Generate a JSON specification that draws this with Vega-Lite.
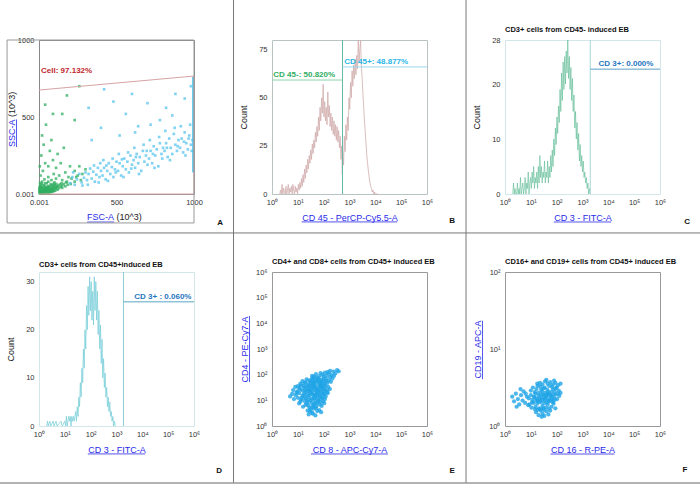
{
"$schema":"https://vega.github.io/schema/vega-lite/v6.json",
"autosize":{"type":"none"},
"padding":{"left":39,"top":40,"right":661,"bottom":454},
"background":"white",
"config":{
 "view":{"stroke":"#999","strokeWidth":1},
 "axis":{"grid":false,"ticks":false,"domain":false,"labelFont":"Liberation Sans","labelFontSize":7.5,"labelColor":"#333","labelPadding":4,"labelFlush":false,"labelOverlap":false,"tickCount":10,"titleFont":"Liberation Sans","titleFontSize":9,"titleFontWeight":"normal","titleColor":"#2a2ae8","titlePadding":8},
 "axisY":{"labelPadding":5},
 "title":{"font":"Liberation Sans","fontSize":7.5,"fontWeight":"bold","anchor":"start","frame":"group","color":"#111","offset":3},
 "text":{"font":"Liberation Sans"}
},
"datasets":{
 "a_events":[
{"fsc":5,"ssc":5,"pop":"g"},{"fsc":10,"ssc":15,"pop":"g"},{"fsc":15,"ssc":8,"pop":"g"},{"fsc":20,"ssc":20,"pop":"g"},{"fsc":25,"ssc":5,"pop":"g"},{"fsc":30,"ssc":12,"pop":"g"},{"fsc":35,"ssc":25,"pop":"g"},{"fsc":40,"ssc":10,"pop":"g"},{"fsc":45,"ssc":18,"pop":"g"},{"fsc":50,"ssc":30,"pop":"g"},{"fsc":55,"ssc":8,"pop":"g"},{"fsc":60,"ssc":22,"pop":"g"},{"fsc":65,"ssc":15,"pop":"g"},{"fsc":70,"ssc":35,"pop":"g"},{"fsc":75,"ssc":12,"pop":"g"},{"fsc":80,"ssc":25,"pop":"g"},{"fsc":85,"ssc":40,"pop":"g"},{"fsc":90,"ssc":18,"pop":"g"},{"fsc":95,"ssc":30,"pop":"g"},{"fsc":100,"ssc":45,"pop":"g"},{"fsc":105,"ssc":22,"pop":"g"},{"fsc":110,"ssc":35,"pop":"g"},{"fsc":115,"ssc":50,"pop":"g"},{"fsc":120,"ssc":28,"pop":"g"},{"fsc":8,"ssc":28,"pop":"g"},{"fsc":12,"ssc":35,"pop":"g"},{"fsc":18,"ssc":42,"pop":"g"},{"fsc":22,"ssc":12,"pop":"g"},{"fsc":28,"ssc":30,"pop":"g"},{"fsc":32,"ssc":18,"pop":"g"},{"fsc":38,"ssc":40,"pop":"g"},{"fsc":42,"ssc":28,"pop":"g"},{"fsc":48,"ssc":45,"pop":"g"},{"fsc":52,"ssc":15,"pop":"g"},{"fsc":58,"ssc":38,"pop":"g"},{"fsc":62,"ssc":52,"pop":"g"},{"fsc":68,"ssc":28,"pop":"g"},{"fsc":72,"ssc":45,"pop":"g"},{"fsc":78,"ssc":55,"pop":"g"},{"fsc":82,"ssc":32,"pop":"g"},{"fsc":88,"ssc":60,"pop":"g"},{"fsc":92,"ssc":42,"pop":"g"},{"fsc":98,"ssc":20,"pop":"g"},{"fsc":102,"ssc":58,"pop":"g"},{"fsc":108,"ssc":40,"pop":"g"},{"fsc":112,"ssc":65,"pop":"g"},{"fsc":118,"ssc":45,"pop":"g"},{"fsc":125,"ssc":55,"pop":"g"},{"fsc":130,"ssc":38,"pop":"g"},{"fsc":135,"ssc":62,"pop":"g"},{"fsc":140,"ssc":48,"pop":"g"},{"fsc":145,"ssc":70,"pop":"g"},{"fsc":150,"ssc":55,"pop":"g"},{"fsc":3,"ssc":40,"pop":"g"},{"fsc":6,"ssc":50,"pop":"g"},{"fsc":10,"ssc":60,"pop":"g"},{"fsc":14,"ssc":48,"pop":"g"},{"fsc":2,"ssc":20,"pop":"g"},{"fsc":4,"ssc":10,"pop":"g"},{"fsc":150,"ssc":40,"pop":"g"},{"fsc":160,"ssc":65,"pop":"g"},{"fsc":170,"ssc":50,"pop":"g"},{"fsc":175,"ssc":75,"pop":"g"},{"fsc":185,"ssc":60,"pop":"g"},
{"fsc":8,"ssc":12,"pop":"g"},{"fsc":16,"ssc":24,"pop":"g"},{"fsc":24,"ssc":16,"pop":"g"},{"fsc":34,"ssc":34,"pop":"g"},{"fsc":44,"ssc":6,"pop":"g"},{"fsc":54,"ssc":26,"pop":"g"},{"fsc":64,"ssc":40,"pop":"g"},{"fsc":74,"ssc":20,"pop":"g"},{"fsc":84,"ssc":14,"pop":"g"},{"fsc":94,"ssc":50,"pop":"g"},{"fsc":12,"ssc":4,"pop":"g"},{"fsc":26,"ssc":44,"pop":"g"},{"fsc":36,"ssc":52,"pop":"g"},{"fsc":46,"ssc":36,"pop":"g"},{"fsc":56,"ssc":48,"pop":"g"},{"fsc":66,"ssc":6,"pop":"g"},{"fsc":76,"ssc":64,"pop":"g"},{"fsc":86,"ssc":28,"pop":"g"},{"fsc":96,"ssc":68,"pop":"g"},{"fsc":30,"ssc":58,"pop":"g"},{"fsc":18,"ssc":66,"pop":"g"},{"fsc":40,"ssc":70,"pop":"g"},{"fsc":60,"ssc":80,"pop":"g"},{"fsc":3,"ssc":30,"pop":"g"},{"fsc":7,"ssc":72,"pop":"g"},
{"fsc":20,"ssc":80,"pop":"g"},{"fsc":35,"ssc":95,"pop":"g"},{"fsc":50,"ssc":70,"pop":"g"},{"fsc":60,"ssc":110,"pop":"g"},{"fsc":80,"ssc":90,"pop":"g"},{"fsc":95,"ssc":130,"pop":"g"},{"fsc":110,"ssc":100,"pop":"g"},{"fsc":130,"ssc":120,"pop":"g"},{"fsc":150,"ssc":90,"pop":"g"},{"fsc":170,"ssc":140,"pop":"g"},{"fsc":190,"ssc":110,"pop":"g"},{"fsc":210,"ssc":100,"pop":"g"},{"fsc":230,"ssc":150,"pop":"g"},{"fsc":250,"ssc":120,"pop":"g"},{"fsc":270,"ssc":90,"pop":"g"},{"fsc":300,"ssc":160,"pop":"g"},{"fsc":25,"ssc":150,"pop":"g"},{"fsc":40,"ssc":200,"pop":"g"},{"fsc":15,"ssc":250,"pop":"g"},{"fsc":60,"ssc":180,"pop":"g"},{"fsc":90,"ssc":220,"pop":"g"},{"fsc":30,"ssc":320,"pop":"g"},{"fsc":70,"ssc":280,"pop":"g"},{"fsc":45,"ssc":450,"pop":"g"},{"fsc":20,"ssc":380,"pop":"g"},{"fsc":110,"ssc":170,"pop":"g"},{"fsc":140,"ssc":200,"pop":"g"},{"fsc":200,"ssc":180,"pop":"g"},{"fsc":120,"ssc":260,"pop":"g"},{"fsc":160,"ssc":300,"pop":"g"},{"fsc":10,"ssc":120,"pop":"g"},{"fsc":5,"ssc":180,"pop":"g"},{"fsc":80,"ssc":350,"pop":"g"},{"fsc":230,"ssc":80,"pop":"g"},{"fsc":260,"ssc":180,"pop":"g"},{"fsc":180,"ssc":80,"pop":"g"},{"fsc":100,"ssc":75,"pop":"g"},{"fsc":205,"ssc":65,"pop":"g"},{"fsc":240,"ssc":110,"pop":"g"},{"fsc":280,"ssc":130,"pop":"g"},
{"fsc":200,"ssc":70,"pop":"b"},{"fsc":215,"ssc":110,"pop":"b"},{"fsc":230,"ssc":60,"pop":"b"},{"fsc":245,"ssc":95,"pop":"b"},{"fsc":260,"ssc":130,"pop":"b"},{"fsc":275,"ssc":75,"pop":"b"},{"fsc":290,"ssc":105,"pop":"b"},{"fsc":300,"ssc":140,"pop":"b"},{"fsc":220,"ssc":140,"pop":"b"},{"fsc":280,"ssc":55,"pop":"b"},
{"fsc":310,"ssc":90,"pop":"b"},{"fsc":320,"ssc":130,"pop":"b"},{"fsc":330,"ssc":165,"pop":"b"},{"fsc":340,"ssc":100,"pop":"b"},{"fsc":350,"ssc":145,"pop":"b"},{"fsc":360,"ssc":80,"pop":"b"},{"fsc":370,"ssc":125,"pop":"b"},{"fsc":380,"ssc":170,"pop":"b"},{"fsc":390,"ssc":110,"pop":"b"},{"fsc":400,"ssc":150,"pop":"b"},{"fsc":315,"ssc":60,"pop":"b"},{"fsc":355,"ssc":185,"pop":"b"},{"fsc":385,"ssc":75,"pop":"b"},{"fsc":395,"ssc":200,"pop":"b"},
{"fsc":410,"ssc":120,"pop":"b"},{"fsc":420,"ssc":170,"pop":"b"},{"fsc":430,"ssc":95,"pop":"b"},{"fsc":440,"ssc":150,"pop":"b"},{"fsc":450,"ssc":200,"pop":"b"},{"fsc":460,"ssc":130,"pop":"b"},{"fsc":470,"ssc":175,"pop":"b"},{"fsc":480,"ssc":110,"pop":"b"},{"fsc":490,"ssc":160,"pop":"b"},{"fsc":500,"ssc":210,"pop":"b"},{"fsc":415,"ssc":220,"pop":"b"},{"fsc":445,"ssc":85,"pop":"b"},{"fsc":475,"ssc":230,"pop":"b"},{"fsc":495,"ssc":140,"pop":"b"},{"fsc":435,"ssc":185,"pop":"b"},
{"fsc":510,"ssc":150,"pop":"b"},{"fsc":520,"ssc":200,"pop":"b"},{"fsc":530,"ssc":120,"pop":"b"},{"fsc":540,"ssc":180,"pop":"b"},{"fsc":550,"ssc":230,"pop":"b"},{"fsc":560,"ssc":160,"pop":"b"},{"fsc":570,"ssc":210,"pop":"b"},{"fsc":580,"ssc":140,"pop":"b"},{"fsc":590,"ssc":250,"pop":"b"},{"fsc":600,"ssc":190,"pop":"b"},{"fsc":515,"ssc":260,"pop":"b"},{"fsc":545,"ssc":110,"pop":"b"},{"fsc":575,"ssc":270,"pop":"b"},{"fsc":595,"ssc":165,"pop":"b"},{"fsc":535,"ssc":225,"pop":"b"},
{"fsc":610,"ssc":220,"pop":"b"},{"fsc":620,"ssc":170,"pop":"b"},{"fsc":630,"ssc":260,"pop":"b"},{"fsc":640,"ssc":200,"pop":"b"},{"fsc":650,"ssc":240,"pop":"b"},{"fsc":660,"ssc":150,"pop":"b"},{"fsc":670,"ssc":280,"pop":"b"},{"fsc":680,"ssc":210,"pop":"b"},{"fsc":690,"ssc":250,"pop":"b"},{"fsc":700,"ssc":190,"pop":"b"},{"fsc":615,"ssc":300,"pop":"b"},{"fsc":645,"ssc":130,"pop":"b"},{"fsc":675,"ssc":320,"pop":"b"},{"fsc":695,"ssc":280,"pop":"b"},{"fsc":625,"ssc":240,"pop":"b"},
{"fsc":710,"ssc":230,"pop":"b"},{"fsc":720,"ssc":280,"pop":"b"},{"fsc":730,"ssc":200,"pop":"b"},{"fsc":740,"ssc":310,"pop":"b"},{"fsc":750,"ssc":250,"pop":"b"},{"fsc":760,"ssc":290,"pop":"b"},{"fsc":770,"ssc":180,"pop":"b"},{"fsc":780,"ssc":330,"pop":"b"},{"fsc":790,"ssc":260,"pop":"b"},{"fsc":800,"ssc":300,"pop":"b"},{"fsc":715,"ssc":350,"pop":"b"},{"fsc":745,"ssc":170,"pop":"b"},{"fsc":775,"ssc":370,"pop":"b"},{"fsc":795,"ssc":230,"pop":"b"},{"fsc":735,"ssc":260,"pop":"b"},
{"fsc":810,"ssc":280,"pop":"b"},{"fsc":820,"ssc":330,"pop":"b"},{"fsc":830,"ssc":240,"pop":"b"},{"fsc":840,"ssc":360,"pop":"b"},{"fsc":850,"ssc":300,"pop":"b"},{"fsc":860,"ssc":260,"pop":"b"},{"fsc":870,"ssc":390,"pop":"b"},{"fsc":880,"ssc":320,"pop":"b"},{"fsc":890,"ssc":280,"pop":"b"},{"fsc":900,"ssc":350,"pop":"b"},{"fsc":815,"ssc":410,"pop":"b"},{"fsc":845,"ssc":220,"pop":"b"},{"fsc":875,"ssc":430,"pop":"b"},{"fsc":895,"ssc":310,"pop":"b"},{"fsc":825,"ssc":300,"pop":"b"},
{"fsc":910,"ssc":300,"pop":"b"},{"fsc":920,"ssc":360,"pop":"b"},{"fsc":930,"ssc":270,"pop":"b"},{"fsc":940,"ssc":400,"pop":"b"},{"fsc":950,"ssc":330,"pop":"b"},{"fsc":960,"ssc":290,"pop":"b"},{"fsc":970,"ssc":380,"pop":"b"},{"fsc":980,"ssc":320,"pop":"b"},{"fsc":990,"ssc":350,"pop":"b"},{"fsc":915,"ssc":440,"pop":"b"},{"fsc":945,"ssc":250,"pop":"b"},{"fsc":975,"ssc":450,"pop":"b"},{"fsc":985,"ssc":280,"pop":"b"},{"fsc":935,"ssc":340,"pop":"b"},{"fsc":965,"ssc":360,"pop":"b"},
{"fsc":150,"ssc":520,"pop":"g"},{"fsc":230,"ssc":480,"pop":"g"},{"fsc":320,"ssc":560,"pop":"b"},{"fsc":400,"ssc":430,"pop":"b"},{"fsc":480,"ssc":600,"pop":"b"},{"fsc":560,"ssc":520,"pop":"b"},{"fsc":640,"ssc":440,"pop":"b"},{"fsc":700,"ssc":590,"pop":"b"},{"fsc":780,"ssc":480,"pop":"b"},{"fsc":860,"ssc":510,"pop":"b"},{"fsc":940,"ssc":620,"pop":"b"},{"fsc":980,"ssc":700,"pop":"b"},{"fsc":180,"ssc":640,"pop":"g"},{"fsc":260,"ssc":700,"pop":"g"},{"fsc":520,"ssc":380,"pop":"b"},{"fsc":620,"ssc":400,"pop":"b"},{"fsc":720,"ssc":450,"pop":"b"},{"fsc":820,"ssc":560,"pop":"b"},{"fsc":880,"ssc":650,"pop":"b"},{"fsc":340,"ssc":350,"pop":"b"},{"fsc":90,"ssc":520,"pop":"g"},{"fsc":40,"ssc":580,"pop":"g"},{"fsc":600,"ssc":650,"pop":"b"},{"fsc":420,"ssc":680,"pop":"b"}
 ],
 "a_gate":[{"fsc":0,"ssc":675,"o":1},{"fsc":1000,"ssc":766,"o":2},{"fsc":1000,"ssc":0,"o":3},{"fsc":0,"ssc":0,"o":4}],
 "b_hist":[
{"cd45":0.30,"count":0},{"cd45":0.33,"count":2},{"cd45":0.36,"count":0},{"cd45":0.39,"count":5},{"cd45":0.42,"count":0},{"cd45":0.45,"count":3},{"cd45":0.48,"count":1},{"cd45":0.51,"count":0},{"cd45":0.54,"count":4},{"cd45":0.57,"count":0},{"cd45":0.60,"count":2},{"cd45":0.63,"count":5},{"cd45":0.66,"count":0},{"cd45":0.69,"count":3},{"cd45":0.72,"count":1},{"cd45":0.75,"count":4},{"cd45":0.78,"count":0},{"cd45":0.81,"count":5},{"cd45":0.84,"count":2},{"cd45":0.87,"count":0},{"cd45":0.90,"count":4},{"cd45":0.93,"count":1},{"cd45":0.96,"count":3},{"cd45":0.99,"count":0},{"cd45":1.02,"count":5},{"cd45":1.05,"count":2},{"cd45":1.08,"count":6},{"cd45":1.11,"count":3},{"cd45":1.14,"count":8},{"cd45":1.17,"count":4},{"cd45":1.20,"count":10},{"cd45":1.23,"count":6},{"cd45":1.26,"count":13},{"cd45":1.29,"count":8},{"cd45":1.32,"count":15},{"cd45":1.35,"count":11},{"cd45":1.38,"count":18},{"cd45":1.41,"count":13},{"cd45":1.44,"count":20},{"cd45":1.47,"count":16},{"cd45":1.50,"count":23},{"cd45":1.53,"count":18},{"cd45":1.56,"count":26},{"cd45":1.59,"count":21},{"cd45":1.62,"count":28},{"cd45":1.65,"count":24},{"cd45":1.68,"count":32},{"cd45":1.71,"count":27},{"cd45":1.74,"count":35},{"cd45":1.77,"count":30},{"cd45":1.80,"count":40},{"cd45":1.83,"count":33},{"cd45":1.86,"count":45},{"cd45":1.89,"count":38},{"cd45":1.92,"count":50},{"cd45":1.95,"count":42},{"cd45":1.98,"count":57},{"cd45":2.01,"count":40},{"cd45":2.04,"count":48},{"cd45":2.07,"count":38},{"cd45":2.10,"count":45},{"cd45":2.13,"count":36},{"cd45":2.16,"count":53},{"cd45":2.19,"count":40},{"cd45":2.22,"count":46},{"cd45":2.25,"count":35},{"cd45":2.28,"count":42},{"cd45":2.31,"count":33},{"cd45":2.34,"count":40},{"cd45":2.37,"count":31},{"cd45":2.40,"count":38},{"cd45":2.43,"count":30},{"cd45":2.46,"count":36},{"cd45":2.49,"count":28},{"cd45":2.52,"count":35},{"cd45":2.55,"count":27},{"cd45":2.58,"count":33},{"cd45":2.61,"count":24},{"cd45":2.64,"count":30},{"cd45":2.67,"count":18},{"cd45":2.70,"count":25},{"cd45":2.72,"count":10},{"cd45":2.74,"count":22},{"cd45":2.77,"count":15},{"cd45":2.80,"count":30},{"cd45":2.83,"count":22},{"cd45":2.86,"count":36},{"cd45":2.89,"count":28},{"cd45":2.92,"count":40},{"cd45":2.95,"count":33},{"cd45":2.98,"count":50},{"cd45":3.01,"count":44},{"cd45":3.04,"count":58},{"cd45":3.07,"count":50},{"cd45":3.10,"count":64},{"cd45":3.13,"count":56},{"cd45":3.16,"count":67},{"cd45":3.19,"count":60},{"cd45":3.22,"count":70},{"cd45":3.25,"count":62},{"cd45":3.28,"count":72},{"cd45":3.31,"count":65},{"cd45":3.34,"count":80},{"cd45":3.37,"count":68},{"cd45":3.40,"count":75},{"cd45":3.43,"count":80},{"cd45":3.46,"count":66},{"cd45":3.49,"count":60},{"cd45":3.52,"count":52},{"cd45":3.55,"count":45},{"cd45":3.58,"count":38},{"cd45":3.61,"count":32},{"cd45":3.64,"count":26},{"cd45":3.67,"count":20},{"cd45":3.70,"count":16},{"cd45":3.73,"count":12},{"cd45":3.76,"count":9},{"cd45":3.79,"count":6},{"cd45":3.82,"count":4},{"cd45":3.85,"count":3},{"cd45":3.88,"count":1},{"cd45":3.91,"count":2},{"cd45":3.94,"count":0},{"cd45":3.97,"count":1},{"cd45":4.00,"count":0},{"cd45":4.10,"count":0}
 ],
 "c_hist":[
{"cd3":0.30,"count":0},{"cd3":0.33,"count":2},{"cd3":0.36,"count":0},{"cd3":0.39,"count":1},{"cd3":0.42,"count":0},{"cd3":0.45,"count":0},{"cd3":0.48,"count":2},{"cd3":0.51,"count":0},{"cd3":0.54,"count":1},{"cd3":0.57,"count":0},{"cd3":0.60,"count":3},{"cd3":0.63,"count":0},{"cd3":0.66,"count":1},{"cd3":0.69,"count":2},{"cd3":0.72,"count":0},{"cd3":0.75,"count":1},{"cd3":0.78,"count":3},{"cd3":0.81,"count":0},{"cd3":0.84,"count":2},{"cd3":0.87,"count":1},{"cd3":0.90,"count":4},{"cd3":0.93,"count":0},{"cd3":0.96,"count":2},{"cd3":0.99,"count":3},{"cd3":1.02,"count":1},{"cd3":1.05,"count":4},{"cd3":1.08,"count":2},{"cd3":1.11,"count":5},{"cd3":1.14,"count":1},{"cd3":1.17,"count":3},{"cd3":1.20,"count":2},{"cd3":1.23,"count":4},{"cd3":1.26,"count":1},{"cd3":1.29,"count":5},{"cd3":1.32,"count":2},{"cd3":1.35,"count":7},{"cd3":1.38,"count":3},{"cd3":1.41,"count":5},{"cd3":1.44,"count":2},{"cd3":1.47,"count":4},{"cd3":1.50,"count":3},{"cd3":1.53,"count":6},{"cd3":1.56,"count":2},{"cd3":1.59,"count":4},{"cd3":1.62,"count":3},{"cd3":1.65,"count":6},{"cd3":1.68,"count":2},{"cd3":1.71,"count":5},{"cd3":1.74,"count":3},{"cd3":1.77,"count":7},{"cd3":1.80,"count":4},{"cd3":1.83,"count":8},{"cd3":1.86,"count":5},{"cd3":1.89,"count":10},{"cd3":1.92,"count":7},{"cd3":1.95,"count":12},{"cd3":1.98,"count":9},{"cd3":2.01,"count":14},{"cd3":2.04,"count":11},{"cd3":2.07,"count":16},{"cd3":2.10,"count":13},{"cd3":2.13,"count":19},{"cd3":2.16,"count":15},{"cd3":2.19,"count":22},{"cd3":2.22,"count":17},{"cd3":2.25,"count":24},{"cd3":2.28,"count":19},{"cd3":2.31,"count":25},{"cd3":2.34,"count":20},{"cd3":2.37,"count":26},{"cd3":2.40,"count":22},{"cd3":2.43,"count":28},{"cd3":2.46,"count":21},{"cd3":2.49,"count":25},{"cd3":2.52,"count":19},{"cd3":2.55,"count":23},{"cd3":2.58,"count":17},{"cd3":2.61,"count":21},{"cd3":2.64,"count":15},{"cd3":2.67,"count":18},{"cd3":2.70,"count":12},{"cd3":2.73,"count":15},{"cd3":2.76,"count":10},{"cd3":2.79,"count":13},{"cd3":2.82,"count":8},{"cd3":2.85,"count":11},{"cd3":2.88,"count":6},{"cd3":2.91,"count":9},{"cd3":2.94,"count":5},{"cd3":2.97,"count":7},{"cd3":3.00,"count":4},{"cd3":3.03,"count":6},{"cd3":3.06,"count":3},{"cd3":3.09,"count":4},{"cd3":3.12,"count":2},{"cd3":3.15,"count":3},{"cd3":3.18,"count":1},{"cd3":3.21,"count":2},{"cd3":3.24,"count":0},{"cd3":3.27,"count":1},{"cd3":3.30,"count":0}
 ],
 "d_hist":[
{"cd3":0.30,"count":0},{"cd3":0.33,"count":1},{"cd3":0.36,"count":0},{"cd3":0.42,"count":1},{"cd3":0.45,"count":0},{"cd3":0.55,"count":1},{"cd3":0.58,"count":0},{"cd3":0.66,"count":1},{"cd3":0.70,"count":0},{"cd3":0.85,"count":1},{"cd3":0.90,"count":0},{"cd3":1.00,"count":1},{"cd3":1.03,"count":0},{"cd3":1.06,"count":2},{"cd3":1.09,"count":0},{"cd3":1.12,"count":1},{"cd3":1.15,"count":2},{"cd3":1.18,"count":1},{"cd3":1.21,"count":2},{"cd3":1.24,"count":0},{"cd3":1.27,"count":2},{"cd3":1.30,"count":1},{"cd3":1.33,"count":2},{"cd3":1.36,"count":1},{"cd3":1.39,"count":2},{"cd3":1.42,"count":3},{"cd3":1.45,"count":1},{"cd3":1.48,"count":4},{"cd3":1.51,"count":2},{"cd3":1.54,"count":6},{"cd3":1.57,"count":4},{"cd3":1.60,"count":9},{"cd3":1.63,"count":6},{"cd3":1.66,"count":12},{"cd3":1.69,"count":9},{"cd3":1.72,"count":16},{"cd3":1.75,"count":12},{"cd3":1.78,"count":20},{"cd3":1.81,"count":16},{"cd3":1.84,"count":25},{"cd3":1.87,"count":20},{"cd3":1.90,"count":29},{"cd3":1.93,"count":23},{"cd3":1.96,"count":31},{"cd3":1.99,"count":24},{"cd3":2.02,"count":30},{"cd3":2.05,"count":22},{"cd3":2.08,"count":28},{"cd3":2.11,"count":21},{"cd3":2.14,"count":31},{"cd3":2.17,"count":24},{"cd3":2.20,"count":30},{"cd3":2.23,"count":22},{"cd3":2.26,"count":28},{"cd3":2.29,"count":19},{"cd3":2.32,"count":24},{"cd3":2.35,"count":16},{"cd3":2.38,"count":21},{"cd3":2.41,"count":13},{"cd3":2.44,"count":18},{"cd3":2.47,"count":10},{"cd3":2.50,"count":14},{"cd3":2.53,"count":8},{"cd3":2.56,"count":11},{"cd3":2.59,"count":6},{"cd3":2.62,"count":8},{"cd3":2.65,"count":4},{"cd3":2.68,"count":6},{"cd3":2.71,"count":3},{"cd3":2.74,"count":5},{"cd3":2.77,"count":2},{"cd3":2.80,"count":3},{"cd3":2.83,"count":1},{"cd3":2.86,"count":2},{"cd3":2.89,"count":0},{"cd3":2.92,"count":1},{"cd3":2.95,"count":0}
 ],
 "e_events":[
{"cd8":1.42,"cd4":0.45},{"cd8":1.55,"cd4":0.52},{"cd8":1.68,"cd4":0.41},{"cd8":1.75,"cd4":0.58},{"cd8":1.5,"cd4":0.65},{"cd8":1.62,"cd4":0.68},{"cd8":1.83,"cd4":0.62},{"cd8":1.38,"cd4":0.6},{"cd8":1.9,"cd4":0.54},{"cd8":1.58,"cd4":0.48},{"cd8":1.7,"cd4":0.7},{"cd8":1.47,"cd4":0.57},
{"cd8":1.05,"cd4":0.88},{"cd8":1.2,"cd4":0.75},{"cd8":1.3,"cd4":0.82},{"cd8":1.38,"cd4":0.95},{"cd8":1.45,"cd4":0.72},{"cd8":1.52,"cd4":0.9},{"cd8":1.6,"cd4":0.8},{"cd8":1.66,"cd4":0.98},{"cd8":1.72,"cd4":0.76},{"cd8":1.78,"cd4":0.92},{"cd8":1.85,"cd4":0.84},{"cd8":1.92,"cd4":0.78},{"cd8":1.98,"cd4":0.96},{"cd8":1.25,"cd4":0.98},{"cd8":1.56,"cd4":0.74},{"cd8":1.63,"cd4":0.86},{"cd8":1.4,"cd4":0.8},{"cd8":1.8,"cd4":1.0},{"cd8":1.1,"cd4":0.95},{"cd8":1.7,"cd4":0.88},{"cd8":1.5,"cd4":1.0},{"cd8":1.88,"cd4":0.94},{"cd8":1.34,"cd4":0.88},{"cd8":2.02,"cd4":0.89},
{"cd8":0.7,"cd4":1.15},{"cd8":0.78,"cd4":1.25},{"cd8":0.85,"cd4":1.05},{"cd8":0.92,"cd4":1.2},{"cd8":1.0,"cd4":1.1},{"cd8":1.05,"cd4":1.28},{"cd8":1.12,"cd4":1.03},{"cd8":1.18,"cd4":1.18},{"cd8":1.24,"cd4":1.25},{"cd8":1.3,"cd4":1.08},{"cd8":1.36,"cd4":1.22},{"cd8":1.42,"cd4":1.13},{"cd8":1.48,"cd4":1.29},{"cd8":1.54,"cd4":1.06},{"cd8":1.6,"cd4":1.2},{"cd8":1.66,"cd4":1.12},{"cd8":1.72,"cd4":1.26},{"cd8":1.78,"cd4":1.04},{"cd8":1.84,"cd4":1.18},{"cd8":1.9,"cd4":1.24},{"cd8":1.96,"cd4":1.1},{"cd8":2.02,"cd4":1.22},{"cd8":2.08,"cd4":1.15},{"cd8":2.15,"cd4":1.28},{"cd8":1.27,"cd4":1.14},{"cd8":1.45,"cd4":1.2},{"cd8":1.63,"cd4":1.08},{"cd8":1.81,"cd4":1.3},{"cd8":1.99,"cd4":1.26},{"cd8":1.15,"cd4":1.1},{"cd8":1.57,"cd4":1.24},{"cd8":1.75,"cd4":1.16},{"cd8":1.93,"cd4":1.07},{"cd8":0.95,"cd4":1.3},{"cd8":1.39,"cd4":1.02},{"cd8":1.69,"cd4":1.22},{"cd8":1.87,"cd4":1.12},{"cd8":2.05,"cd4":1.05},
{"cd8":0.82,"cd4":1.4},{"cd8":0.9,"cd4":1.52},{"cd8":0.98,"cd4":1.35},{"cd8":1.05,"cd4":1.48},{"cd8":1.12,"cd4":1.58},{"cd8":1.18,"cd4":1.38},{"cd8":1.25,"cd4":1.5},{"cd8":1.3,"cd4":1.32},{"cd8":1.36,"cd4":1.45},{"cd8":1.42,"cd4":1.56},{"cd8":1.47,"cd4":1.37},{"cd8":1.52,"cd4":1.48},{"cd8":1.57,"cd4":1.6},{"cd8":1.62,"cd4":1.4},{"cd8":1.67,"cd4":1.52},{"cd8":1.72,"cd4":1.34},{"cd8":1.77,"cd4":1.46},{"cd8":1.82,"cd4":1.58},{"cd8":1.87,"cd4":1.39},{"cd8":1.92,"cd4":1.5},{"cd8":1.97,"cd4":1.32},{"cd8":2.02,"cd4":1.45},{"cd8":2.07,"cd4":1.55},{"cd8":2.12,"cd4":1.4},{"cd8":2.18,"cd4":1.52},{"cd8":2.24,"cd4":1.44},{"cd8":1.33,"cd4":1.54},{"cd8":1.45,"cd4":1.42},{"cd8":1.55,"cd4":1.34},{"cd8":1.65,"cd4":1.57},{"cd8":1.75,"cd4":1.4},{"cd8":1.85,"cd4":1.52},{"cd8":1.95,"cd4":1.43},{"cd8":2.05,"cd4":1.36},{"cd8":1.1,"cd4":1.43},{"cd8":1.22,"cd4":1.56},{"cd8":1.39,"cd4":1.36},{"cd8":1.6,"cd4":1.5},{"cd8":1.8,"cd4":1.35},{"cd8":1.9,"cd4":1.57},{"cd8":2.0,"cd4":1.54},{"cd8":1.7,"cd4":1.45},{"cd8":1.5,"cd4":1.55},{"cd8":1.28,"cd4":1.4},{"cd8":1.0,"cd4":1.55},{"cd8":2.15,"cd4":1.32},
{"cd8":1.1,"cd4":1.65},{"cd8":1.18,"cd4":1.75},{"cd8":1.26,"cd4":1.68},{"cd8":1.34,"cd4":1.82},{"cd8":1.4,"cd4":1.62},{"cd8":1.48,"cd4":1.73},{"cd8":1.55,"cd4":1.85},{"cd8":1.6,"cd4":1.65},{"cd8":1.66,"cd4":1.78},{"cd8":1.72,"cd4":1.68},{"cd8":1.78,"cd4":1.87},{"cd8":1.84,"cd4":1.7},{"cd8":1.9,"cd4":1.8},{"cd8":1.96,"cd4":1.63},{"cd8":2.02,"cd4":1.74},{"cd8":2.08,"cd4":1.86},{"cd8":2.14,"cd4":1.68},{"cd8":2.2,"cd4":1.78},{"cd8":2.28,"cd4":1.72},{"cd8":2.34,"cd4":1.85},{"cd8":1.52,"cd4":1.68},{"cd8":1.63,"cd4":1.7},{"cd8":1.75,"cd4":1.76},{"cd8":1.87,"cd4":1.66},{"cd8":1.99,"cd4":1.84},{"cd8":2.11,"cd4":1.76},{"cd8":1.44,"cd4":1.78},{"cd8":1.69,"cd4":1.88},{"cd8":1.81,"cd4":1.8},{"cd8":1.93,"cd4":1.72},{"cd8":2.05,"cd4":1.65},{"cd8":2.25,"cd4":1.9},{"cd8":1.3,"cd4":1.7},{"cd8":1.58,"cd4":1.8},
{"cd8":1.55,"cd4":1.95},{"cd8":1.7,"cd4":2.02},{"cd8":1.82,"cd4":1.93},{"cd8":1.95,"cd4":2.0},{"cd8":2.05,"cd4":2.08},{"cd8":2.12,"cd4":1.96},{"cd8":2.2,"cd4":2.05},{"cd8":2.3,"cd4":1.98},{"cd8":2.38,"cd4":2.12},{"cd8":2.45,"cd4":2.05},{"cd8":2.52,"cd4":2.18},{"cd8":2.58,"cd4":2.13},{"cd8":2.0,"cd4":1.94},{"cd8":2.25,"cd4":2.15},{"cd8":1.88,"cd4":2.06},{"cd8":2.15,"cd4":2.1},{"cd8":2.4,"cd4":1.95},{"cd8":1.62,"cd4":1.92}
 ],
 "f_events":[
{"cd16":0.28,"cd19":0.38},{"cd16":0.35,"cd19":0.32},{"cd16":0.42,"cd19":0.42},{"cd16":0.5,"cd19":0.35},{"cd16":0.55,"cd19":0.28},{"cd16":0.62,"cd19":0.4},{"cd16":0.68,"cd19":0.33},{"cd16":0.72,"cd19":0.45},{"cd16":0.78,"cd19":0.3},{"cd16":0.45,"cd19":0.25},{"cd16":0.6,"cd19":0.48},{"cd16":0.85,"cd19":0.38},{"cd16":0.9,"cd19":0.27},{"cd16":0.8,"cd19":0.42},
{"cd16":1.2,"cd19":0.18},{"cd16":1.3,"cd19":0.14},{"cd16":1.38,"cd19":0.2},{"cd16":1.45,"cd19":0.16},{"cd16":1.52,"cd19":0.13},{"cd16":1.6,"cd19":0.19},{"cd16":1.68,"cd19":0.15},{"cd16":1.35,"cd19":0.22},{"cd16":1.5,"cd19":0.21},{"cd16":1.75,"cd19":0.2},{"cd16":1.25,"cd19":0.21},{"cd16":1.42,"cd19":0.12},
{"cd16":0.95,"cd19":0.28},{"cd16":1.02,"cd19":0.24},{"cd16":1.1,"cd19":0.3},{"cd16":1.18,"cd19":0.25},{"cd16":1.25,"cd19":0.29},{"cd16":1.32,"cd19":0.23},{"cd16":1.38,"cd19":0.31},{"cd16":1.45,"cd19":0.26},{"cd16":1.52,"cd19":0.3},{"cd16":1.58,"cd19":0.24},{"cd16":1.65,"cd19":0.28},{"cd16":1.72,"cd19":0.32},{"cd16":1.8,"cd19":0.25},{"cd16":1.88,"cd19":0.29},{"cd16":1.95,"cd19":0.23},{"cd16":1.15,"cd19":0.22},{"cd16":1.48,"cd19":0.23},{"cd16":1.62,"cd19":0.31},{"cd16":1.28,"cd19":0.32},{"cd16":1.7,"cd19":0.23},{"cd16":1.05,"cd19":0.31},{"cd16":1.85,"cd19":0.31},
{"cd16":0.92,"cd19":0.36},{"cd16":1.0,"cd19":0.4},{"cd16":1.06,"cd19":0.34},{"cd16":1.12,"cd19":0.38},{"cd16":1.18,"cd19":0.42},{"cd16":1.24,"cd19":0.35},{"cd16":1.3,"cd19":0.39},{"cd16":1.36,"cd19":0.33},{"cd16":1.42,"cd19":0.37},{"cd16":1.48,"cd19":0.41},{"cd16":1.54,"cd19":0.34},{"cd16":1.6,"cd19":0.38},{"cd16":1.66,"cd19":0.42},{"cd16":1.72,"cd19":0.35},{"cd16":1.78,"cd19":0.39},{"cd16":1.84,"cd19":0.33},{"cd16":1.9,"cd19":0.37},{"cd16":1.96,"cd19":0.41},{"cd16":2.02,"cd19":0.35},{"cd16":2.1,"cd19":0.39},{"cd16":1.21,"cd19":0.33},{"cd16":1.39,"cd19":0.41},{"cd16":1.57,"cd19":0.36},{"cd16":1.75,"cd19":0.4},{"cd16":1.93,"cd19":0.34},{"cd16":1.33,"cd19":0.36},{"cd16":1.51,"cd19":0.39},{"cd16":1.69,"cd19":0.33},{"cd16":1.87,"cd19":0.41},{"cd16":1.15,"cd19":0.37},{"cd16":1.45,"cd19":0.34},{"cd16":1.63,"cd19":0.4},{"cd16":1.81,"cd19":0.36},{"cd16":2.05,"cd19":0.42},
{"cd16":1.0,"cd19":0.46},{"cd16":1.08,"cd19":0.5},{"cd16":1.15,"cd19":0.44},{"cd16":1.22,"cd19":0.48},{"cd16":1.3,"cd19":0.43},{"cd16":1.37,"cd19":0.51},{"cd16":1.44,"cd19":0.45},{"cd16":1.5,"cd19":0.49},{"cd16":1.57,"cd19":0.43},{"cd16":1.64,"cd19":0.47},{"cd16":1.71,"cd19":0.52},{"cd16":1.78,"cd19":0.44},{"cd16":1.85,"cd19":0.48},{"cd16":1.92,"cd19":0.45},{"cd16":2.0,"cd19":0.5},{"cd16":2.08,"cd19":0.46},{"cd16":2.15,"cd19":0.43},{"cd16":1.26,"cd19":0.52},{"cd16":1.54,"cd19":0.5},{"cd16":1.82,"cd19":0.51},{"cd16":1.4,"cd19":0.47},{"cd16":1.68,"cd19":0.44},{"cd16":1.96,"cd19":0.49},
{"cd16":1.35,"cd19":0.56},{"cd16":1.45,"cd19":0.54},{"cd16":1.55,"cd19":0.58},{"cd16":1.65,"cd19":0.55},{"cd16":1.75,"cd19":0.57},{"cd16":1.85,"cd19":0.54},{"cd16":1.95,"cd19":0.56},{"cd16":2.05,"cd19":0.53},{"cd16":2.15,"cd19":0.55},{"cd16":1.6,"cd19":0.6},{"cd16":1.9,"cd19":0.59},{"cd16":1.25,"cd19":0.55}
 ]
},
"columns":3,
"spacing":{"row":78,"column":78},
"bounds":"flush",
"concat":[
 {
  "width":155,"height":154,
  "view":{"stroke":"#888"},
  "layer":[
   {"data":{"name":"a_events"},"mark":{"type":"square","size":7,"opacity":0.75},
    "encoding":{
     "x":{"field":"fsc","type":"quantitative","scale":{"domain":[0,1000],"nice":false,"zero":false},"axis":{"values":[0,500,1000],"tickCount":10,"labelOverlap":false,"labelExpr":"datum.value==0?'0.001':''+datum.value","title":null}},
     "y":{"field":"ssc","type":"quantitative","scale":{"domain":[0,1000],"nice":false,"zero":false},"axis":{"values":[0,500,1000],"tickCount":10,"labelOverlap":false,"labelExpr":"datum.value==0?'0.001':''+datum.value","title":null}},
     "color":{"field":"pop","type":"nominal","scale":{"domain":["g","b"],"range":["#2fae5f","#58c4ee"]},"legend":null}}},
   {"data":{"values":[{}]},"mark":{"type":"rule","color":"#3ec1f0","strokeWidth":2},
    "encoding":{"x":{"datum":995,"type":"quantitative","scale":{"domain":[0,1000]}},"y":{"datum":140,"type":"quantitative","scale":{"domain":[0,1000]}},"y2":{"datum":760}}},
   {"data":{"name":"a_gate"},"mark":{"type":"line","color":"#d7a3a3","strokeWidth":1},
    "encoding":{"x":{"field":"fsc","type":"quantitative","scale":{"domain":[0,1000]}},"y":{"field":"ssc","type":"quantitative","scale":{"domain":[0,1000]}},"order":{"field":"o"}}},
   {"data":{"values":[{}]},"mark":{"type":"text","text":"Cell: 97.132%","color":"#c0272d","fontWeight":"bold","fontSize":8,"align":"left","baseline":"middle"},
    "encoding":{"x":{"datum":13,"type":"quantitative","scale":{"domain":[0,1000]}},"y":{"datum":799,"type":"quantitative","scale":{"domain":[0,1000]}}}},
   {"data":{"values":[{}]},"mark":{"type":"text","text":"FSC-A","color":"#2a2ae8","fontSize":9,"align":"left","baseline":"alphabetic"},
    "encoding":{"x":{"datum":310,"type":"quantitative","scale":{"domain":[0,1000]}},"y":{"datum":-169,"type":"quantitative","scale":{"domain":[0,1000]}}}},
   {"data":{"values":[{}]},"mark":{"type":"text","text":"(10^3)","color":"#222","fontSize":9,"align":"left","baseline":"alphabetic"},
    "encoding":{"x":{"datum":500,"type":"quantitative","scale":{"domain":[0,1000]}},"y":{"datum":-169,"type":"quantitative","scale":{"domain":[0,1000]}}}},
   {"data":{"values":[{}]},"mark":{"type":"rule","color":"#2a2ae8","strokeWidth":0.8},
    "encoding":{"x":{"datum":310,"type":"quantitative","scale":{"domain":[0,1000]}},"x2":{"datum":485},"y":{"datum":-182,"type":"quantitative","scale":{"domain":[0,1000]}}}},
   {"data":{"values":[{}]},"mark":{"type":"text","text":"SSC-A","color":"#2a2ae8","fontSize":9,"align":"left","baseline":"alphabetic","angle":270},
    "encoding":{"x":{"datum":-155,"type":"quantitative","scale":{"domain":[0,1000]}},"y":{"datum":305,"type":"quantitative","scale":{"domain":[0,1000]}}}},
   {"data":{"values":[{}]},"mark":{"type":"text","text":"(10^3)","color":"#222","fontSize":9,"align":"left","baseline":"alphabetic","angle":270},
    "encoding":{"x":{"datum":-155,"type":"quantitative","scale":{"domain":[0,1000]}},"y":{"datum":500,"type":"quantitative","scale":{"domain":[0,1000]}}}},
   {"data":{"values":[{}]},"mark":{"type":"rule","color":"#2a2ae8","strokeWidth":0.8},
    "encoding":{"x":{"datum":-145,"type":"quantitative","scale":{"domain":[0,1000]}},"y":{"datum":305,"type":"quantitative","scale":{"domain":[0,1000]}},"y2":{"datum":484}}},
   {"data":{"values":[{}]},"mark":{"type":"rect","fillOpacity":0,"stroke":"#999","strokeWidth":1},
    "encoding":{"x":{"datum":-206,"type":"quantitative","scale":{"domain":[0,1000]}},"x2":{"datum":1000},"y":{"datum":1000,"type":"quantitative","scale":{"domain":[0,1000]}},"y2":{"datum":-188}}},
   {"data":{"values":[{}]},"mark":{"type":"text","text":"A","color":"#111","fontWeight":"bold","fontSize":8,"align":"center","baseline":"middle"},
    "encoding":{"x":{"datum":1168,"type":"quantitative","scale":{"domain":[0,1000]}},"y":{"datum":-188,"type":"quantitative","scale":{"domain":[0,1000]}}}},
   {"data":{"values":[{}]},"mark":{"type":"rule","color":"#777","strokeWidth":1},
    "encoding":{"x":{"datum":1255,"type":"quantitative","scale":{"domain":[0,1000]}},"y":{"datum":1260,"type":"quantitative","scale":{"domain":[0,1000]}},"y2":{"datum":-1877}}},
   {"data":{"values":[{}]},"mark":{"type":"rule","color":"#777","strokeWidth":1},
    "encoding":{"x":{"datum":2755,"type":"quantitative","scale":{"domain":[0,1000]}},"y":{"datum":1260,"type":"quantitative","scale":{"domain":[0,1000]}},"y2":{"datum":-1877}}},
   {"data":{"values":[{}]},"mark":{"type":"rule","color":"#777","strokeWidth":1},
    "encoding":{"x":{"datum":-252,"type":"quantitative","scale":{"domain":[0,1000]}},"x2":{"datum":4265},"y":{"datum":-253,"type":"quantitative","scale":{"domain":[0,1000]}}}},
   {"data":{"values":[{}]},"mark":{"type":"rule","color":"#999","strokeWidth":1.5},
    "encoding":{"x":{"datum":-252,"type":"quantitative","scale":{"domain":[0,1000]}},"x2":{"datum":4265},"y":{"datum":-1877,"type":"quantitative","scale":{"domain":[0,1000]}}}}
  ]
 },
 {
  "width":155,"height":154,
  "view":{"stroke":"#b8c4c4"},
  "layer":[
   {"data":{"name":"b_hist"},"mark":{"type":"line","color":"#d2adad","strokeWidth":0.8},
    "encoding":{
     "x":{"field":"cd45","type":"quantitative","scale":{"domain":[0,6],"nice":false,"zero":false},"axis":{"values":[0,1,2,3,4,5,6],"tickCount":10,"labelOverlap":false,"labelExpr":"'10' + ['⁰','¹','²','³','⁴','⁵','⁶'][datum.value]","title":"CD 45 - PerCP-Cy5.5-A"}},
     "y":{"field":"count","type":"quantitative","scale":{"domain":[0,80],"nice":false},"axis":{"values":[0,25,50,75],"tickCount":10,"labelOverlap":false,"title":"Count","titleColor":"#111","titlePadding":10}}}},
   {"data":{"values":[{}]},"mark":{"type":"rule","color":"#62b8a8","strokeWidth":1},
    "encoding":{"x":{"datum":2.73,"type":"quantitative","scale":{"domain":[0,6]}},"y":{"datum":0,"type":"quantitative","scale":{"domain":[0,80]}},"y2":{"datum":80}}},
   {"data":{"values":[{}]},"mark":{"type":"rule","color":"#8fd4ae","strokeWidth":1},
    "encoding":{"x":{"datum":0,"type":"quantitative","scale":{"domain":[0,6]}},"x2":{"datum":2.73},"y":{"datum":59.2,"type":"quantitative","scale":{"domain":[0,80]}}}},
   {"data":{"values":[{}]},"mark":{"type":"rule","color":"#9ad9ee","strokeWidth":1},
    "encoding":{"x":{"datum":2.73,"type":"quantitative","scale":{"domain":[0,6]}},"x2":{"datum":6},"y":{"datum":66,"type":"quantitative","scale":{"domain":[0,80]}}}},
   {"data":{"values":[{}]},"mark":{"type":"text","text":"CD 45-: 50.820%","color":"#2fae5f","fontWeight":"bold","fontSize":8,"align":"left","baseline":"bottom","dy":-1},
    "encoding":{"x":{"datum":0.05,"type":"quantitative","scale":{"domain":[0,6]}},"y":{"datum":59.2,"type":"quantitative","scale":{"domain":[0,80]}}}},
   {"data":{"values":[{}]},"mark":{"type":"text","text":"CD 45+: 48.877%","color":"#29b6e6","fontWeight":"bold","fontSize":8,"align":"left","baseline":"bottom","dy":-1},
    "encoding":{"x":{"datum":2.8,"type":"quantitative","scale":{"domain":[0,6]}},"y":{"datum":66,"type":"quantitative","scale":{"domain":[0,80]}}}},
   {"data":{"values":[{}]},"mark":{"type":"rule","color":"#2a2ae8","strokeWidth":0.8},
    "encoding":{"x":{"datum":1.15,"type":"quantitative","scale":{"domain":[0,6]}},"x2":{"datum":4.85},"y":{"datum":-14.5,"type":"quantitative","scale":{"domain":[0,80]}}}},
   {"data":{"values":[{}]},"mark":{"type":"text","text":"B","color":"#111","fontWeight":"bold","fontSize":8,"align":"center","baseline":"middle"},
    "encoding":{"x":{"datum":6.97,"type":"quantitative","scale":{"domain":[0,6]}},"y":{"datum":-14,"type":"quantitative","scale":{"domain":[0,80]}}}}
  ]
 },
 {
  "width":155,"height":154,
  "title":{"text":"CD3+ cells from CD45- induced EB"},
  "view":{"stroke":"#d3e6ea"},
  "layer":[
   {"data":{"name":"c_hist"},"mark":{"type":"line","color":"#5dbb93","strokeWidth":0.8,"opacity":0.75},
    "encoding":{
     "x":{"field":"cd3","type":"quantitative","scale":{"domain":[0,6],"nice":false,"zero":false},"axis":{"values":[0,1,2,3,4,5,6],"tickCount":10,"labelOverlap":false,"labelExpr":"'10' + ['⁰','¹','²','³','⁴','⁵','⁶'][datum.value]","title":"CD 3 - FITC-A"}},
     "y":{"field":"count","type":"quantitative","scale":{"domain":[0,28],"nice":false},"axis":{"values":[0,10,20,28],"tickCount":10,"labelOverlap":false,"title":"Count","titleColor":"#111","titlePadding":10}}}},
   {"data":{"values":[{}]},"mark":{"type":"rule","color":"#a9d6da","strokeWidth":1},
    "encoding":{"x":{"datum":3.3,"type":"quantitative","scale":{"domain":[0,6]}},"y":{"datum":0,"type":"quantitative","scale":{"domain":[0,28]}},"y2":{"datum":28}}},
   {"data":{"values":[{}]},"mark":{"type":"rule","color":"#5a9fc6","strokeWidth":1},
    "encoding":{"x":{"datum":3.3,"type":"quantitative","scale":{"domain":[0,6]}},"x2":{"datum":6},"y":{"datum":22.7,"type":"quantitative","scale":{"domain":[0,28]}}}},
   {"data":{"values":[{}]},"mark":{"type":"text","text":"CD 3+: 0.000%","color":"#1f76c0","fontWeight":"bold","fontSize":8,"align":"left","baseline":"bottom","dy":-1},
    "encoding":{"x":{"datum":3.62,"type":"quantitative","scale":{"domain":[0,6]}},"y":{"datum":22.7,"type":"quantitative","scale":{"domain":[0,28]}}}},
   {"data":{"values":[{}]},"mark":{"type":"rule","color":"#2a2ae8","strokeWidth":0.8},
    "encoding":{"x":{"datum":1.89,"type":"quantitative","scale":{"domain":[0,6]}},"x2":{"datum":4.11},"y":{"datum":-5.09,"type":"quantitative","scale":{"domain":[0,28]}}}},
   {"data":{"values":[{}]},"mark":{"type":"text","text":"C","color":"#111","fontWeight":"bold","fontSize":8,"align":"center","baseline":"middle"},
    "encoding":{"x":{"datum":7.05,"type":"quantitative","scale":{"domain":[0,6]}},"y":{"datum":-5.1,"type":"quantitative","scale":{"domain":[0,28]}}}}
  ]
 },
 {
  "width":155,"height":154,
  "title":{"text":"CD3+ cells from CD45+induced EB"},
  "view":{"stroke":"#d3e6ea"},
  "layer":[
   {"data":{"name":"d_hist"},"mark":{"type":"line","color":"#7fd0da","strokeWidth":0.8},
    "encoding":{
     "x":{"field":"cd3","type":"quantitative","scale":{"domain":[0,6],"nice":false,"zero":false},"axis":{"values":[0,1,2,3,4,5,6],"tickCount":10,"labelOverlap":false,"labelExpr":"'10' + ['⁰','¹','²','³','⁴','⁵','⁶'][datum.value]","title":"CD 3 - FITC-A"}},
     "y":{"field":"count","type":"quantitative","scale":{"domain":[0,32],"nice":false},"axis":{"values":[0,10,20,30],"tickCount":10,"labelOverlap":false,"title":"Count","titleColor":"#111","titlePadding":10}}}},
   {"data":{"values":[{}]},"mark":{"type":"rule","color":"#8fcbd6","strokeWidth":1},
    "encoding":{"x":{"datum":3.27,"type":"quantitative","scale":{"domain":[0,6]}},"y":{"datum":0,"type":"quantitative","scale":{"domain":[0,32]}},"y2":{"datum":32}}},
   {"data":{"values":[{}]},"mark":{"type":"rule","color":"#5aa7c8","strokeWidth":1},
    "encoding":{"x":{"datum":3.27,"type":"quantitative","scale":{"domain":[0,6]}},"x2":{"datum":6},"y":{"datum":25.8,"type":"quantitative","scale":{"domain":[0,32]}}}},
   {"data":{"values":[{}]},"mark":{"type":"text","text":"CD 3+ : 0.060%","color":"#1f76c0","fontWeight":"bold","fontSize":8,"align":"left","baseline":"bottom","dy":-1},
    "encoding":{"x":{"datum":3.69,"type":"quantitative","scale":{"domain":[0,6]}},"y":{"datum":25.8,"type":"quantitative","scale":{"domain":[0,32]}}}},
   {"data":{"values":[{}]},"mark":{"type":"rule","color":"#2a2ae8","strokeWidth":0.8},
    "encoding":{"x":{"datum":1.89,"type":"quantitative","scale":{"domain":[0,6]}},"x2":{"datum":4.11},"y":{"datum":-5.8,"type":"quantitative","scale":{"domain":[0,32]}}}},
   {"data":{"values":[{}]},"mark":{"type":"text","text":"D","color":"#111","fontWeight":"bold","fontSize":8,"align":"center","baseline":"middle"},
    "encoding":{"x":{"datum":6.97,"type":"quantitative","scale":{"domain":[0,6]}},"y":{"datum":-9.4,"type":"quantitative","scale":{"domain":[0,32]}}}}
  ]
 },
 {
  "width":155,"height":154,
  "title":{"text":"CD4+ and CD8+ cells from CD45+ induced EB"},
  "view":{"stroke":"#999"},
  "layer":[
   {"data":{"name":"e_events"},"mark":{"type":"circle","size":18,"opacity":0.8,"color":"#1ea4e6"},
    "encoding":{
     "x":{"field":"cd8","type":"quantitative","scale":{"domain":[0,6],"nice":false,"zero":false},"axis":{"values":[0,1,2,3,4,5,6],"tickCount":10,"labelOverlap":false,"labelExpr":"'10' + ['⁰','¹','²','³','⁴','⁵','⁶'][datum.value]","title":"CD 8 - APC-Cy7-A"}},
     "y":{"field":"cd4","type":"quantitative","scale":{"domain":[0,6],"nice":false,"zero":false},"axis":{"values":[0,1,2,3,4,5,6],"tickCount":10,"labelOverlap":false,"labelExpr":"'10' + ['⁰','¹','²','³','⁴','⁵','⁶'][datum.value]","title":"CD4 - PE-Cy7-A","titlePadding":6}}}},
   {"data":{"values":[{}]},"mark":{"type":"rule","color":"#2a2ae8","strokeWidth":0.8},
    "encoding":{"x":{"datum":1.51,"type":"quantitative","scale":{"domain":[0,6]}},"x2":{"datum":4.49},"y":{"datum":-1.09,"type":"quantitative","scale":{"domain":[0,6]}}}},
   {"data":{"values":[{}]},"mark":{"type":"rule","color":"#2a2ae8","strokeWidth":0.8},
    "encoding":{"x":{"datum":-0.87,"type":"quantitative","scale":{"domain":[0,6]}},"y":{"datum":1.714,"type":"quantitative","scale":{"domain":[0,6]}},"y2":{"datum":4.285}}},
   {"data":{"values":[{}]},"mark":{"type":"text","text":"E","color":"#111","fontWeight":"bold","fontSize":8,"align":"center","baseline":"middle"},
    "encoding":{"x":{"datum":6.97,"type":"quantitative","scale":{"domain":[0,6]}},"y":{"datum":-1.75,"type":"quantitative","scale":{"domain":[0,6]}}}}
  ]
 },
 {
  "width":155,"height":154,
  "title":{"text":"CD16+ and CD19+ cells from CD45+ induced EB"},
  "view":{"stroke":"#999"},
  "layer":[
   {"data":{"name":"f_events"},"mark":{"type":"circle","size":18,"opacity":0.8,"color":"#1ea4e6"},
    "encoding":{
     "x":{"field":"cd16","type":"quantitative","scale":{"domain":[0,6],"nice":false,"zero":false},"axis":{"values":[0,1,2,3,4,5,6],"tickCount":10,"labelOverlap":false,"labelExpr":"'10' + ['⁰','¹','²','³','⁴','⁵','⁶'][datum.value]","title":"CD 16 - R-PE-A"}},
     "y":{"field":"cd19","type":"quantitative","scale":{"domain":[0,2],"nice":false,"zero":false},"axis":{"values":[0,1,2],"tickCount":10,"labelOverlap":false,"labelExpr":"'10' + ['⁰','¹','²'][datum.value]","title":"CD19 - APC-A","titlePadding":6}}}},
   {"data":{"values":[{}]},"mark":{"type":"rule","color":"#2a2ae8","strokeWidth":0.8},
    "encoding":{"x":{"datum":1.76,"type":"quantitative","scale":{"domain":[0,6]}},"x2":{"datum":4.24},"y":{"datum":-0.364,"type":"quantitative","scale":{"domain":[0,2]}}}},
   {"data":{"values":[{}]},"mark":{"type":"rule","color":"#2a2ae8","strokeWidth":0.8},
    "encoding":{"x":{"datum":-0.87,"type":"quantitative","scale":{"domain":[0,6]}},"y":{"datum":0.607,"type":"quantitative","scale":{"domain":[0,2]}},"y2":{"datum":1.367}}},
   {"data":{"values":[{}]},"mark":{"type":"text","text":"F","color":"#111","fontWeight":"bold","fontSize":8,"align":"center","baseline":"middle"},
    "encoding":{"x":{"datum":6.97,"type":"quantitative","scale":{"domain":[0,6]}},"y":{"datum":-0.57,"type":"quantitative","scale":{"domain":[0,2]}}}}
  ]
 }
]
}
